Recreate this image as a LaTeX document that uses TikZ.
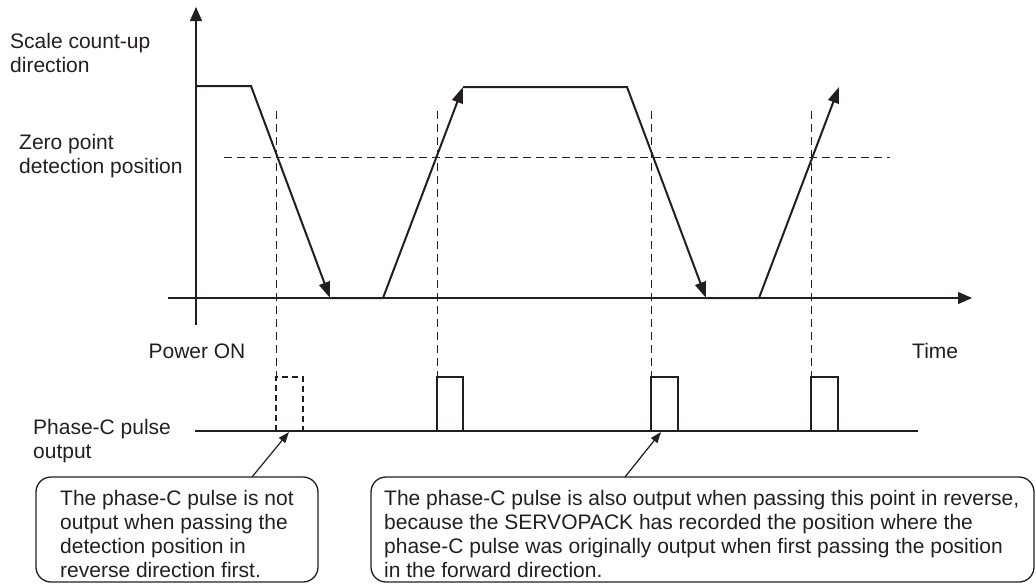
\documentclass[tikz,border=0pt]{standalone}
\usepackage{fontspec}
\setmainfont{Liberation Sans}
\usetikzlibrary{arrows.meta}
\definecolor{ink}{HTML}{231F20}
\tikzset{
  axis/.style={draw=ink, line width=1.3pt, -{Triangle[length=14pt,width=12pt]}},
  sig/.style={draw=ink, line width=2pt, line join=miter, -{Triangle[length=16pt,width=11pt]}},
  guide/.style={draw=ink, line width=1pt, dash pattern=on 8pt off 5pt},
  pulse/.style={draw=ink, line width=2pt},
  dpulse/.style={draw=ink, line width=2.2pt, dash pattern=on 6pt off 4pt},
  base/.style={draw=ink, line width=1.3pt},
  callout/.style={draw=ink, line width=1.3pt, rounded corners=15pt},
  pointer/.style={draw=ink, line width=1.2pt, -{Triangle[length=11pt,width=8pt]}},
  lbl/.style={text=ink, font=\fontsize{21}{23.5}\selectfont, inner sep=0pt, align=left, anchor=base west},
  clbl/.style={text=ink, font=\fontsize{21}{24}\selectfont, inner sep=0pt, align=left, anchor=base west},
}
\begin{document}
\begin{tikzpicture}[x=1pt, y=-1pt]
\useasboundingbox (0,0) rectangle (1036,584);
% axes
\coordinate (yb) at (196,325);
\coordinate (yt) at (196,7);
\coordinate (xl) at (168,298);
\coordinate (xr) at (972,298);
\draw[axis] (yb) -- (yt);
\draw[axis] (xl) -- (xr);
% zero point line
\coordinate (zl) at (224,157);
\coordinate (zr) at (890,157);
\draw[guide] (zl) -- (zr);
% signal
\coordinate (s0) at (196,86);
\coordinate (s1) at (251,86);
\coordinate (s2) at (330,298);
\coordinate (s3) at (383,298);
\coordinate (s4) at (463,87);
\coordinate (s5) at (627,87);
\coordinate (s6) at (706,298);
\coordinate (s7) at (759,298);
\coordinate (s8) at (839,87);
\draw[sig] (s0) -- (s1) -- (s2);
\draw[sig] (s2) -- (s3) -- (s4);
\draw[sig] (s4) -- (s5) -- (s6);
\draw[sig] (s6) -- (s7) -- (s8);
% guides
\foreach \x/\n in {276/g0,437/g1,651/g2,811/g3}{
  \coordinate (\n t) at (\x,111);
  \coordinate (\n b) at (\x,377);
  \draw[guide] (\n t) -- (\n b);
}
% pulse baseline
\coordinate (pl) at (195,431);
\coordinate (pr) at (918,431);
\draw[base] (pl) -- (pr);
% pulses
\draw[dpulse] (276,431) -- (276,377) -- (303,377) -- (303,431);
\draw[pulse] (437,431) rectangle (463,377);
\draw[pulse] (651,431) rectangle (678,377);
\draw[pulse] (811,431) rectangle (838,377);
% labels (base anchor = last line baseline)
\node[lbl] (lscale) at (10,72) {Scale count-up\\direction};
\node[lbl] (lzero) at (19,173) {Zero point\\detection position};
\node[lbl, anchor=base] (lpower) at (197,358) {Power ON};
\node[lbl] (ltime) at (912,358) {Time};
\node[lbl] (lphase) at (33,458) {Phase-C pulse\\output};
% callouts
\draw[callout] (36,477) rectangle (318,582);
\draw[callout] (371,477) rectangle (1034,582);
\coordinate (c1s) at (252,477);
\coordinate (c1e) at (289,432);
\coordinate (c2s) at (625,477);
\coordinate (c2e) at (661,432);
\draw[pointer] (c1s) -- (c1e);
\draw[pointer] (c2s) -- (c2e);
\node[clbl] (t1) at (60,577) {The phase-C pulse is not\\output when passing the\\detection position in\\reverse direction first.};
\node[clbl] (t2) at (384,577) {The phase-C pulse is also output when passing this point in reverse,\\because the SERVOPACK has recorded the position where the\\phase-C pulse was originally output when first passing the position\\in the forward direction.};
\end{tikzpicture}
\end{document}
